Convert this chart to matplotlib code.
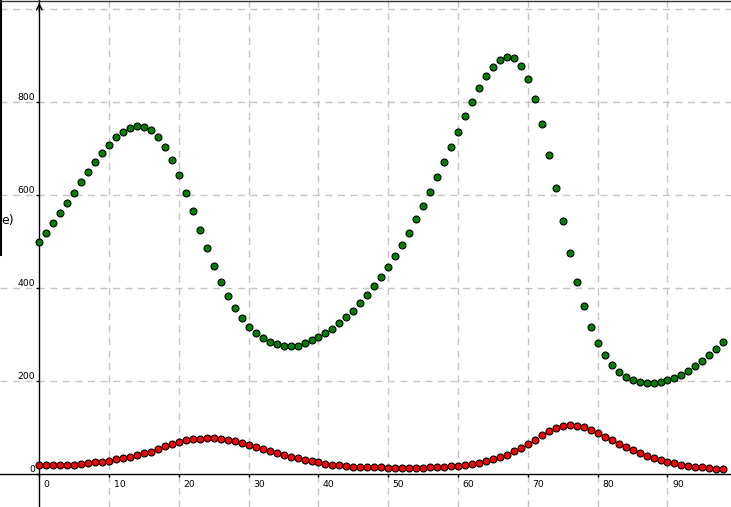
import matplotlib
matplotlib.use("Agg")
import matplotlib.pyplot as plt
from matplotlib.lines import Line2D

# values (one point per step, 0..98)
steps = list(range(99))
green = [499, 520, 540, 561, 583, 606, 628, 650, 671, 690,
         708, 725, 736, 745, 749, 747, 740, 725, 703, 675,
         643, 606, 566, 525, 486, 447, 413, 383, 357, 336,
         316, 303, 293, 284, 280, 277, 277, 277, 282, 288,
         295, 303, 312, 325, 338, 351, 368, 385, 404, 424,
         445, 469, 493, 520, 548, 576, 607, 639, 671, 703,
         736, 770, 800, 830, 856, 875, 890, 897, 895, 877,
         850, 807, 753, 686, 615, 544, 475, 413, 361, 316,
         282, 256, 234, 219, 209, 202, 198, 196, 196, 198,
         202, 207, 213, 222, 232, 243, 256, 269, 284]
red = [19, 19, 19, 20, 21, 21, 22, 24, 26, 27,
       29, 32, 34, 37, 41, 45, 49, 54, 60, 65,
       70, 74, 76, 77, 79, 78, 77, 74, 71, 67,
       62, 58, 54, 50, 46, 42, 37, 34, 31, 29,
       26, 23, 21, 19, 18, 16, 16, 15, 15, 15,
       13, 13, 13, 13, 13, 13, 15, 15, 16, 17,
       18, 20, 22, 24, 28, 32, 37, 41, 50, 56,
       65, 73, 84, 93, 99, 103, 105, 103, 101, 95,
       88, 80, 73, 65, 58, 52, 45, 39, 34, 30,
       26, 24, 21, 17, 15, 15, 13, 11, 11]

xticks = [0, 10, 20, 30, 40, 50, 60, 70, 80, 90]
yticks = [0, 200, 400, 600, 800]
ygrid = [200, 400, 600, 800, 1000]

fig = plt.figure(figsize=(7.31, 5.07), dpi=100)
ax = fig.add_axes([0, 0, 1, 1])
ax.set_xlim(-5.63, 99.1)
ax.set_ylim(-70.3, 1020)

# dashed grey grid
for gx in xticks[1:]:
    ax.axvline(gx, color="#c4c4c4", lw=1, ls=(0, (5, 4)), zorder=0)
for gy in ygrid:
    ax.axhline(gy, color="#c4c4c4", lw=1, ls=(0, (5, 4)), zorder=0)

# axes through the origin
for s in ["top", "right"]:
    ax.spines[s].set_visible(False)
ax.spines["left"].set_position(("data", 0))
ax.spines["bottom"].set_position(("data", 0))
ax.spines["left"].set_linewidth(1)
ax.spines["bottom"].set_linewidth(1)
ax.set_xticks(xticks)
ax.set_yticks(yticks)
ax.tick_params(direction="out", length=2.5, width=1, labelleft=False, labelbottom=False)
ax.annotate("", xy=(0, 1020), xytext=(0, 990),
            arrowprops=dict(arrowstyle="->", lw=1, color="black"))

for v in xticks:
    ax.annotate(str(v), xy=(v, 0), xytext=(3.2, -9.4), textcoords="offset points",
                ha="left", va="baseline", fontsize=6.7)
for v in yticks:
    ax.annotate(str(v), xy=(0, v), xytext=(-3.2, 1.7), textcoords="offset points",
                ha="right", va="baseline", fontsize=6.7)

ax.plot(steps, green, ls="none", marker="o", ms=5, mfc="#008000", mec="black", mew=0.8, zorder=3)
ax.plot(steps, red, ls="none", marker="o", ms=5, mfc="#ff0000", mec="black", mew=0.8, zorder=3)

# bits of the surrounding window that show in the screenshot
fig.text(14 / 731, 1 - 224 / 507, "e)", ha="right", va="baseline", fontsize=9)
fig.add_artist(Line2D([0.5 / 731, 0.5 / 731], [1, 1 - 255 / 507], color="black", lw=1.5))
fig.add_artist(Line2D([0, 1], [1 - 0.5 / 507, 1 - 0.5 / 507], color="#333333", lw=1))

fig.savefig("out.png", dpi=100)
